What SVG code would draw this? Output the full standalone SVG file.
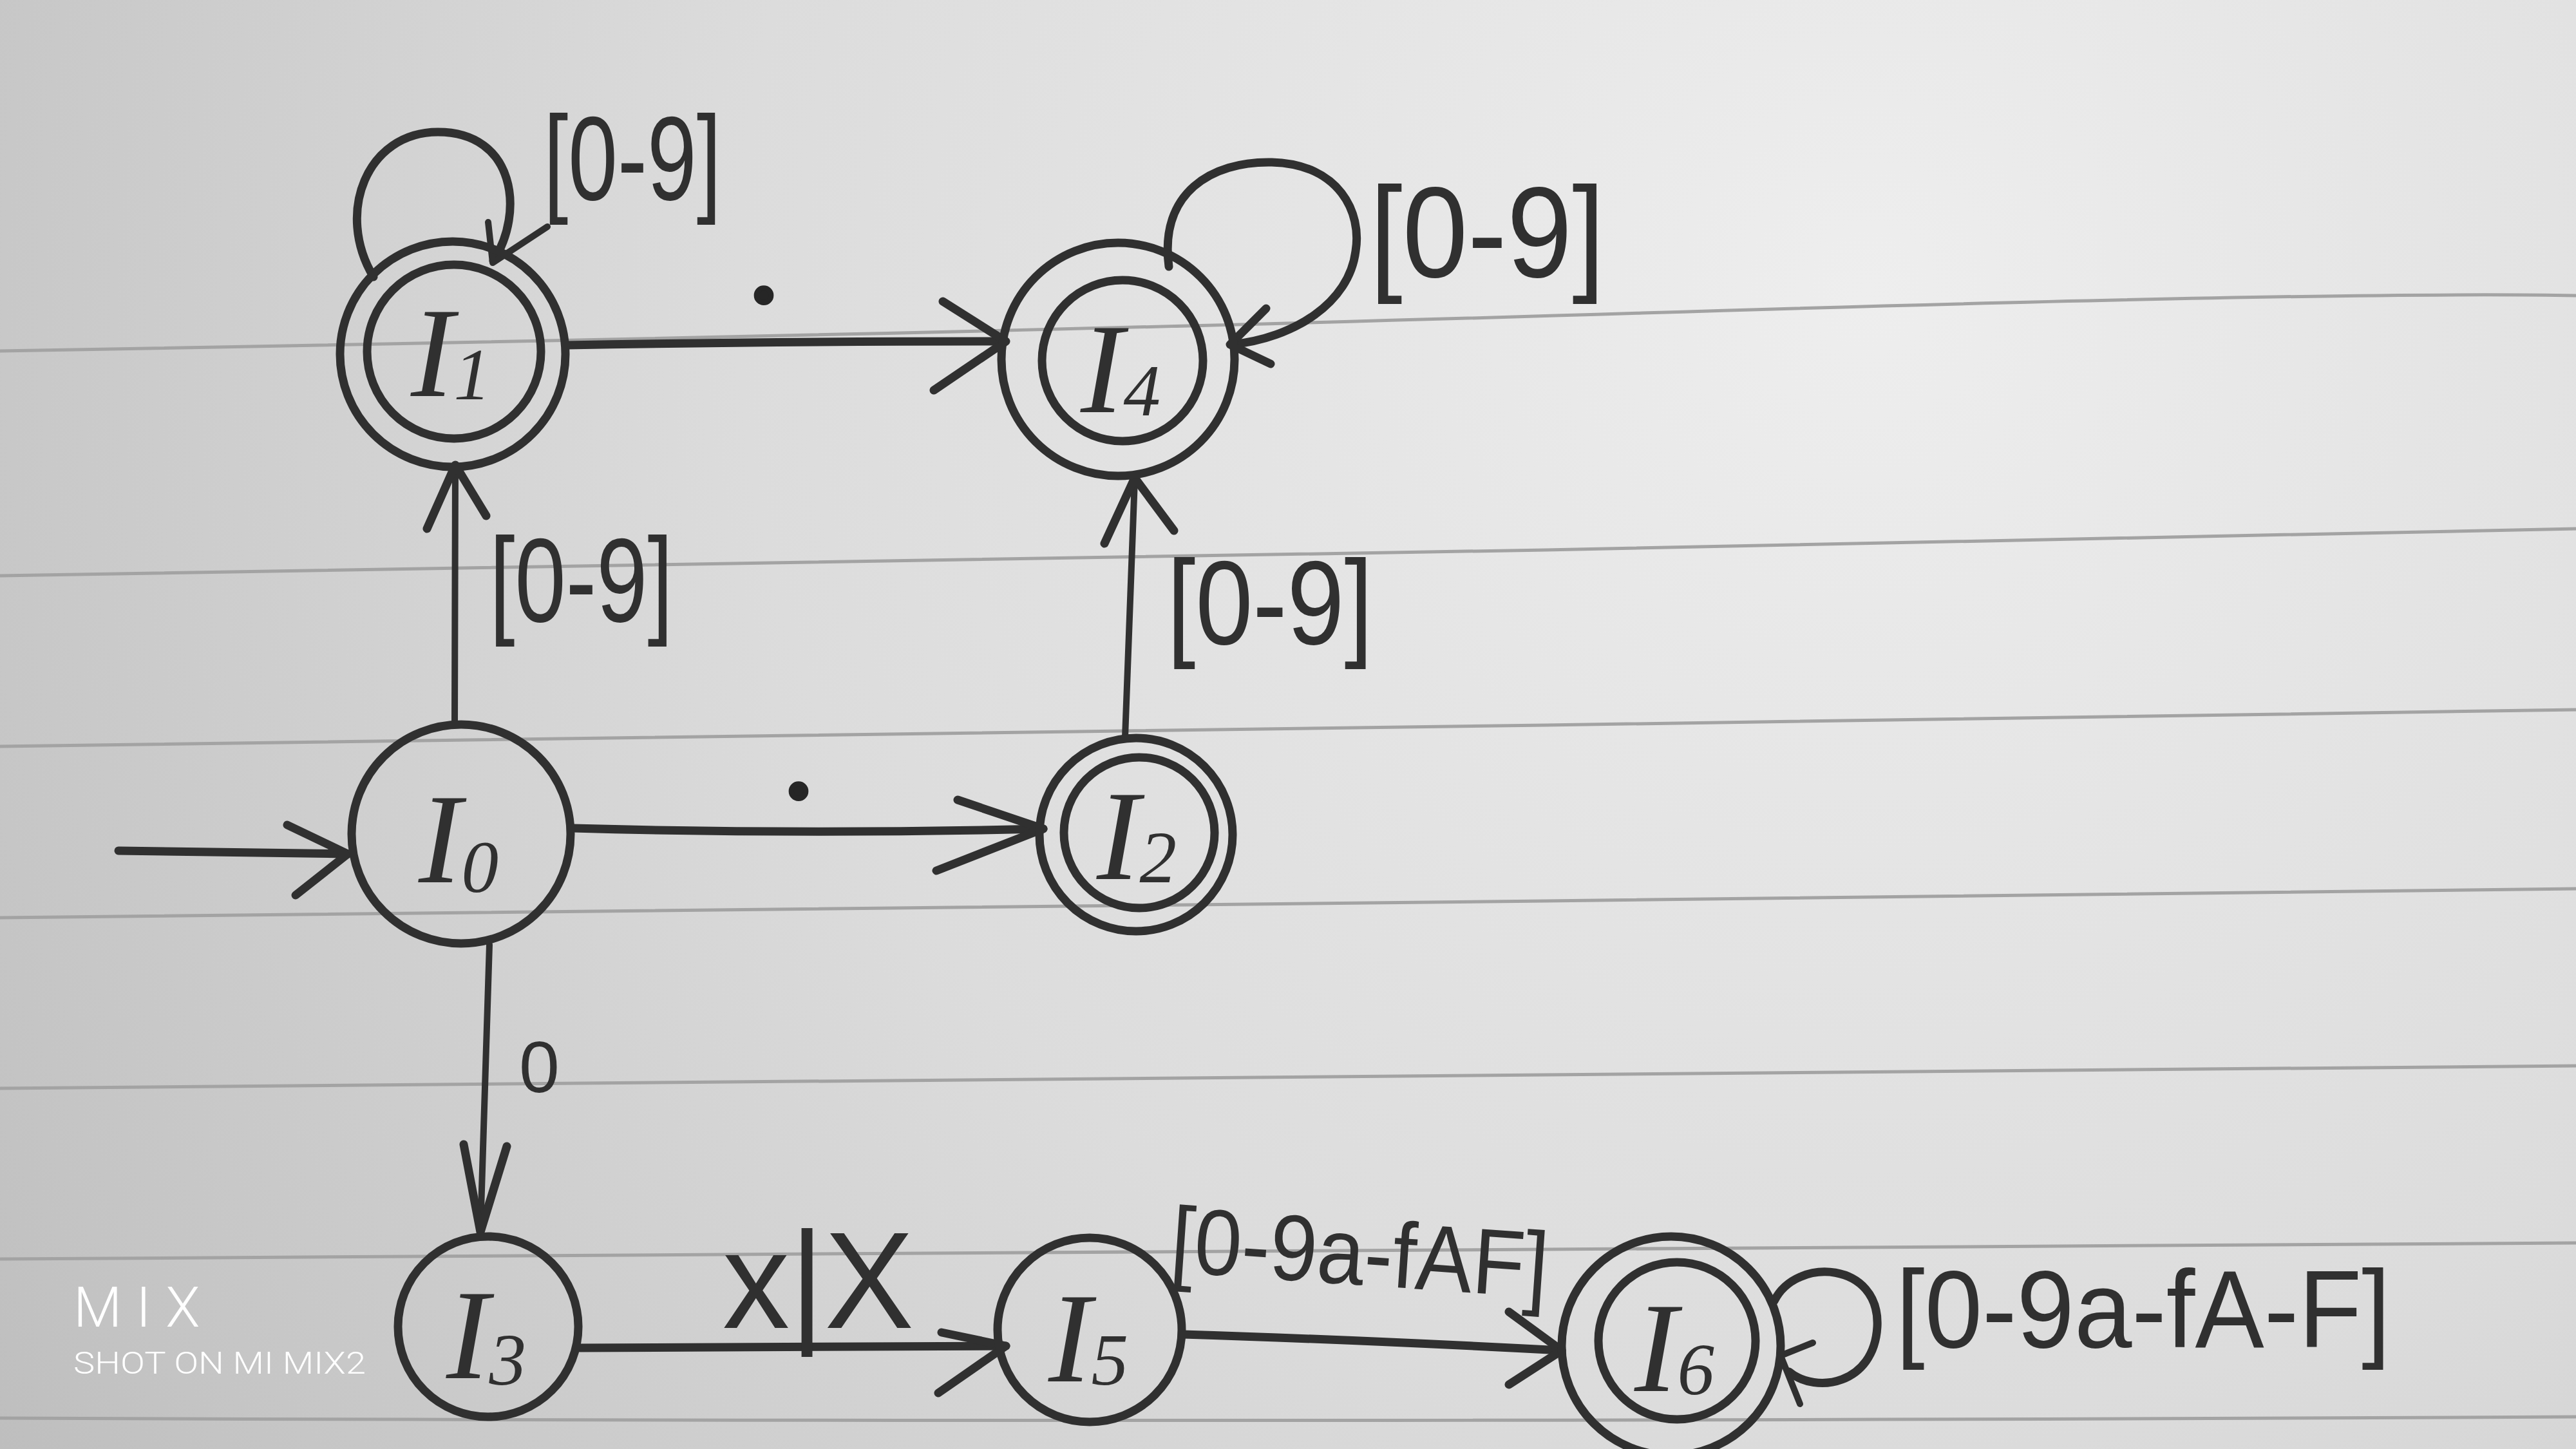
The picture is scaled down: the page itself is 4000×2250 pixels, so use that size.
<svg xmlns="http://www.w3.org/2000/svg" width="4000" height="2250" viewBox="0 0 4000 2250">
<defs>
<radialGradient id="paper" cx="2900" cy="450" r="3900" gradientUnits="userSpaceOnUse">
<stop offset="0" stop-color="#eeeeee"/>
<stop offset="0.45" stop-color="#dcdcdc"/>
<stop offset="0.8" stop-color="#c4c4c4"/>
<stop offset="1" stop-color="#b4b4b4"/>
</radialGradient>
<style>
.ink{stroke:#303030;stroke-width:13;fill:none;stroke-linecap:round;stroke-linejoin:round}
.thin{stroke-width:10}
.rule{stroke:#a3a3a3;stroke-width:5;fill:none}
.lbl{font-family:"Liberation Sans",Arial,sans-serif;fill:#303030}
.dot{font-family:"Liberation Serif","Times New Roman",serif;font-weight:bold;font-size:140px;fill:#262626;stroke:#262626;stroke-width:8;stroke-linejoin:round;text-anchor:middle}
.nl{font-family:"Liberation Serif","Times New Roman",serif;font-style:italic;font-size:200px;fill:#303030;text-anchor:middle}
.sub{font-size:115px}
.wm{font-family:Roboto,"DejaVu Sans",sans-serif;font-weight:300;fill:#ffffff}
</style>
</defs>
<rect width="4000" height="2250" fill="url(#paper)"/>
<g id="rules">
<path class="rule" d="M0 545 Q 1450 520 2550 486 T 4000 459"/>
<path class="rule" d="M0 894 Q 1600 868 2400 854 T 4000 821"/>
<path class="rule" d="M0 1159 Q 1600 1138 2400 1126 T 4000 1102"/>
<path class="rule" d="M0 1425 Q 1600 1410 2400 1399 T 4000 1380"/>
<path class="rule" d="M0 1690 Q 2000 1672 4000 1655"/>
<path class="rule" d="M0 1955 Q 2000 1948 4000 1930"/>
<path class="rule" d="M0 2202 Q 2000 2210 4000 2200"/>
</g>
<g id="connectors">
<path class="ink" d="M184 1321 L540 1326"/>
<polyline class="ink" points="446,1281 540,1326 459,1390"/>
<path class="ink thin" d="M706 1122 L707 724"/>
<polyline class="ink" points="663,821 707,722 755,801"/>
<path class="ink" d="M880 536 Q 1200 530 1560 530"/>
<polyline class="ink" points="1464,468 1562,530 1450,606"/>
<path class="ink" d="M890 1286 Q 1250 1296 1620 1287"/>
<polyline class="ink" points="1487,1242 1620,1287 1454,1352"/>
<path class="ink thin" d="M1747 1145 L1762 744"/>
<polyline class="ink" points="1715,844 1762,742 1823,824"/>
<path class="ink thin" d="M760 1467 L746 1911"/>
<polyline class="ink" points="720,1777 746,1913 787,1780"/>
<path class="ink" d="M900 2093 L1562 2090"/>
<polyline class="ink" points="1462,2069 1562,2090 1457,2163"/>
<path class="ink" d="M1837 2072 Q 2100 2080 2425 2097"/>
<polyline class="ink" points="2343,2037 2425,2097 2343,2150"/>
<path class="ink" d="M580 430 C 520 330, 570 205, 680 205 C 800 205, 815 330, 766 405"/>
<polyline class="ink thin" points="758,345 765,408 850,352"/>
<path class="ink" d="M1815 414 C 1800 300, 1880 250, 1975 252 C 2080 255, 2115 330, 2105 390 C 2095 470, 2010 525, 1912 535"/>
<polyline class="ink" points="1966,479 1910,535 1973,565"/>
<path class="ink" d="M2755 2020 C 2790 1950, 2920 1960, 2915 2060 C 2910 2150, 2820 2165, 2778 2130"/>
<polyline class="ink thin" points="2815,2085 2765,2105 2795,2180"/>
</g>
<g id="labels">
<text class="lbl" x="844" y="310" font-size="185" textLength="276" lengthAdjust="spacingAndGlyphs">[0-9]</text>
<text class="lbl" x="2127" y="430" font-size="200" textLength="365" lengthAdjust="spacingAndGlyphs">[0-9]</text>
<text class="lbl" x="760" y="965" font-size="185" textLength="285" lengthAdjust="spacingAndGlyphs">[0-9]</text>
<text class="lbl" x="1812" y="1000" font-size="185" textLength="320" lengthAdjust="spacingAndGlyphs">[0-9]</text>
<text class="dot" x="1186" y="468">.</text>
<text class="dot" x="1240" y="1238">.</text>
<text class="lbl" x="806" y="1696" font-size="113">0</text>
<text class="lbl" x="1122" y="2062" font-size="213" textLength="297" lengthAdjust="spacingAndGlyphs">x|X</text>
<text class="lbl" x="2108" y="1995" font-size="145" text-anchor="middle" textLength="587" lengthAdjust="spacingAndGlyphs" transform="rotate(4 2108 1995)">[0-9a-fAF]</text>
<text class="lbl" x="2944" y="2092" font-size="170" textLength="768" lengthAdjust="spacingAndGlyphs">[0-9a-fA-F]</text>
</g>
<g id="I0">
<circle class="ink" cx="716" cy="1295" r="170"/>
<text class="nl" x="712" y="1370">I<tspan class="sub" dy="15">0</tspan></text>
</g>
<g id="I1">
<circle class="ink" cx="703" cy="550" r="175"/>
<circle class="ink" cx="705" cy="546" r="135"/>
<text class="nl" x="700" y="615">I<tspan class="sub" dy="5">1</tspan></text>
</g>
<g id="I2">
<circle class="ink" cx="1764" cy="1296" r="150"/>
<circle class="ink" cx="1769" cy="1293" r="117"/>
<text class="nl" x="1765" y="1365">I<tspan class="sub" dy="5">2</tspan></text>
</g>
<g id="I3">
<circle class="ink" cx="758" cy="2060" r="140"/>
<text class="nl" x="755" y="2140">I<tspan class="sub" dy="10">3</tspan></text>
</g>
<g id="I4">
<circle class="ink" cx="1736" cy="558" r="181"/>
<circle class="ink" cx="1743" cy="560" r="125"/>
<text class="nl" x="1740" y="640">I<tspan class="sub" dy="5">4</tspan></text>
</g>
<g id="I5">
<circle class="ink" cx="1692" cy="2065" r="143"/>
<text class="nl" x="1690" y="2145">I<tspan class="sub" dy="5">5</tspan></text>
</g>
<g id="I6">
<circle class="ink" cx="2595" cy="2090" r="170"/>
<circle class="ink" cx="2604" cy="2082" r="122"/>
<text class="nl" x="2600" y="2160">I<tspan class="sub" dy="5">6</tspan></text>
</g>
<g id="watermark">
<text class="wm" x="114" y="2060" font-size="87" letter-spacing="22">MIX</text>
<text class="wm" x="114" y="2133" font-size="49" textLength="454" lengthAdjust="spacingAndGlyphs">SHOT ON MI MIX2</text>
</g>
</svg>
